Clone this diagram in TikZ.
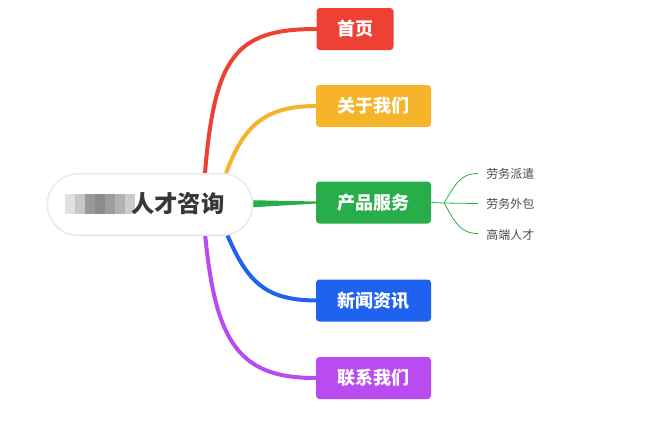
\documentclass[tikz,border=0pt]{standalone}
\usepackage{fontspec}
\newfontfamily\cjk{Noto Sans CJK SC}
\usetikzlibrary{shadows}
\definecolor{cR}{HTML}{EE4136}
\definecolor{cO}{HTML}{F6B42A}
\definecolor{cG}{HTML}{27AE4A}
\definecolor{cB}{HTML}{1F62F0}
\definecolor{cP}{HTML}{B94BF1}
\begin{document}
\begin{tikzpicture}[x=0.75pt,y=-0.75pt,
 br/.style={rounded corners=2.5pt,text=white,font=\cjk\bfseries\fontsize{13.5}{15}\selectfont,minimum height=31.5pt,inner sep=0pt},
 con/.style={line width=3pt,line cap=round},
 sub/.style={cG,line width=0.6pt},
 lf/.style={anchor=west,text=black!70,font=\cjk\fontsize{9}{10}\selectfont,inner sep=0pt}]
\useasboundingbox (0,0) rectangle (672,426);
\node[br,fill=cR,minimum width=57.75pt] (n1) at (355,29) {首页};
\node[br,fill=cO,minimum width=86.25pt] (n2) at (373.5,106) {关于我们};
\node[br,fill=cG,minimum width=86.25pt] (n3) at (373.5,202.5) {产品服务};
\node[br,fill=cB,minimum width=86.25pt] (n4) at (373.5,300.5) {新闻资讯};
\node[br,fill=cP,minimum width=86.25pt] (n5) at (373.5,378) {联系我们};
\coordinate (s1) at (203,200);
\coordinate (s2) at (222,185);
\coordinate (s3) at (240,204);
\coordinate (s4) at (222,222);
\coordinate (s5) at (203,208);
\draw[con,cR] (s1) .. controls (212,60) and (230,29) .. (n1.west);
\draw[con,cO] (s2) .. controls (240,130) and (260,106) .. (n2.west);
\fill[cG] (240,200) -- (317,201.5) -- (317,203.5) -- (240,208) -- cycle;
\draw[con,cB] (s4) .. controls (245,280) and (262,300) .. (n4.west);
\draw[con,cP] (s5) .. controls (212,340) and (235,378) .. (n5.west);
\node[draw=black!8,line width=1.2pt,fill=white,rounded corners=23pt,minimum width=154pt,minimum height=46pt,inner sep=0pt,drop shadow={opacity=0.12,shadow xshift=0pt,shadow yshift=-1pt}] (root) at (150,204.5) {};
\foreach \x/\g in {65/12,75/22,85/40,95/45,105/38,115/30,125/20}
  \fill[black!\g] (\x,194) rectangle ++(10,20);
\node[font=\cjk\bfseries\fontsize{17.5}{19}\selectfont,text=black!78,anchor=west,inner sep=0pt] (rt) at (131,204) {人才咨询};
\coordinate (j) at (444,203);
\node[lf] (a) at (486,173.5) {劳务派遣};
\node[lf] (b) at (486,204) {劳务外包};
\node[lf] (c) at (486,234.5) {高端人才};
\draw[sub] (n3.east) -- (j);
\draw[sub] (j) .. controls (455,185) and (460,173.5) .. (478,173.5);
\draw[sub] (j) -- (478,203.5);
\draw[sub] (j) .. controls (455,222) and (460,233.5) .. (478,233.5);
\end{tikzpicture}
\end{document}
